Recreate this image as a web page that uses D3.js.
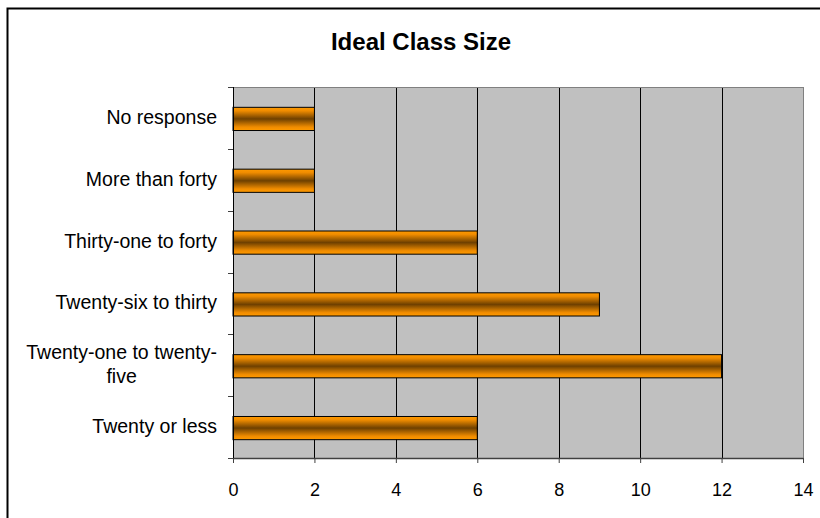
<!DOCTYPE html>
<html><head><meta charset="utf-8">
<script src="https://cdn.jsdelivr.net/npm/d3@7"></script>
<style>body{margin:0;background:#fff;}svg{display:block;font-family:"Liberation Sans",Arial,sans-serif;}</style>
</head><body>
<svg id="c" width="820" height="518"></svg>
<script>
const title = "Ideal Class Size";
const categories = ["No response","More than forty","Thirty-one to forty","Twenty-six to thirty","Twenty-one to twenty-five","Twenty or less"];
const labelLines = [["No response"],["More than forty"],["Thirty-one to forty"],["Twenty-six to thirty"],["Twenty-one to twenty-","five"],["Twenty or less"]];
const values = [2,2,6,9,12,6];
const xTicks = [0,2,4,6,8,10,12,14];

const svg = d3.select("#c");
const defs = svg.append("defs");
const g = defs.append("linearGradient").attr("id","bg").attr("x1",0).attr("y1",0).attr("x2",0).attr("y2",1);
g.append("stop").attr("offset","0%").attr("stop-color","#ff9a00");
g.append("stop").attr("offset","15%").attr("stop-color","#f08c00");
g.append("stop").attr("offset","50%").attr("stop-color","#6e4000");
g.append("stop").attr("offset","85%").attr("stop-color","#f08c00");
g.append("stop").attr("offset","100%").attr("stop-color","#ff9a00");

// outer border
svg.append("rect").attr("x",7.5).attr("y",8.5).attr("width",830).attr("height",530).attr("fill","#fff").attr("stroke","#000").attr("stroke-width",2);

const L=233, R=803, T=87, B=458;
const x = d3.scaleLinear().domain([0,14]).range([L,R]);
const y = d3.scaleBand().domain(categories).range([T,B]).padding(0);

svg.append("text").attr("x",421).attr("y",50).attr("text-anchor","middle").attr("font-size",24).attr("font-weight","bold").text(title);

svg.append("rect").attr("x",L).attr("y",T).attr("width",R-L).attr("height",B-T).attr("fill","#c0c0c0");
// grid
svg.append("g").selectAll("line").data(xTicks.slice(1,-1)).join("line")
  .attr("x1",d=>Math.round(x(d))+0.5).attr("x2",d=>Math.round(x(d))+0.5).attr("y1",T).attr("y2",B)
  .attr("stroke","#000").attr("stroke-width",1);
// plot border top/right
svg.append("line").attr("x1",L).attr("x2",R).attr("y1",T+0.5).attr("y2",T+0.5).attr("stroke","#808080");
svg.append("line").attr("x1",R+0.5).attr("x2",R+0.5).attr("y1",T).attr("y2",B).attr("stroke","#808080");

// bars
const bh = y.bandwidth()*0.375;
svg.append("g").selectAll("rect").data(categories).join("rect")
  .attr("x",L).attr("y",(d,i)=>y(d)+y.bandwidth()/2 - bh/2 + 1)
  .attr("width",(d,i)=>x(values[i])-L).attr("height",bh)
  .attr("fill","url(#bg)").attr("stroke","#000").attr("stroke-width",1);

// x axis
const xa = svg.append("g").attr("transform",`translate(0,${B})`)
  .call(d3.axisBottom(x).tickValues(xTicks).tickSize(5).tickSizeOuter(0).tickPadding(20));
xa.select(".domain").attr("stroke","#404040").attr("stroke-width",1.5);
xa.selectAll(".tick line").attr("stroke","#404040");
xa.selectAll("text").attr("font-size",18).attr("font-family","Liberation Sans, Arial, sans-serif").attr("fill","#000");

// y axis
svg.append("line").attr("x1",L+0.5).attr("x2",L+0.5).attr("y1",T).attr("y2",B).attr("stroke","#000");
const yt = categories.map(c=>y(c)).concat([B]);
svg.append("g").selectAll("line").data(yt).join("line")
  .attr("x1",L-5).attr("x2",L).attr("y1",d=>Math.round(d)+0.5).attr("y2",d=>Math.round(d)+0.5).attr("stroke","#404040");

// labels
const lg = svg.append("g").attr("font-size",19.5).attr("fill","#000");
categories.forEach((c,i)=>{
  const lines = labelLines[i];
  const cy = y(c)+y.bandwidth()/2;
  const lh = 24;
  const startY = cy - (lines.length-1)*lh/2 + 6;
  if(lines.length===1){
    lg.append("text").attr("x",217).attr("y",startY).attr("text-anchor","end").text(lines[0]);
  } else {
    const t0 = lg.append("text").attr("x",217).attr("y",startY).attr("text-anchor","end").text(lines[0]);
    const w = t0.node().getComputedTextLength();
    lines.slice(1).forEach((ln,k)=>{
      lg.append("text").attr("x",217-w/2).attr("y",startY+(k+1)*lh).attr("text-anchor","middle").text(ln);
    });
  }
});
</script>
</body></html>
